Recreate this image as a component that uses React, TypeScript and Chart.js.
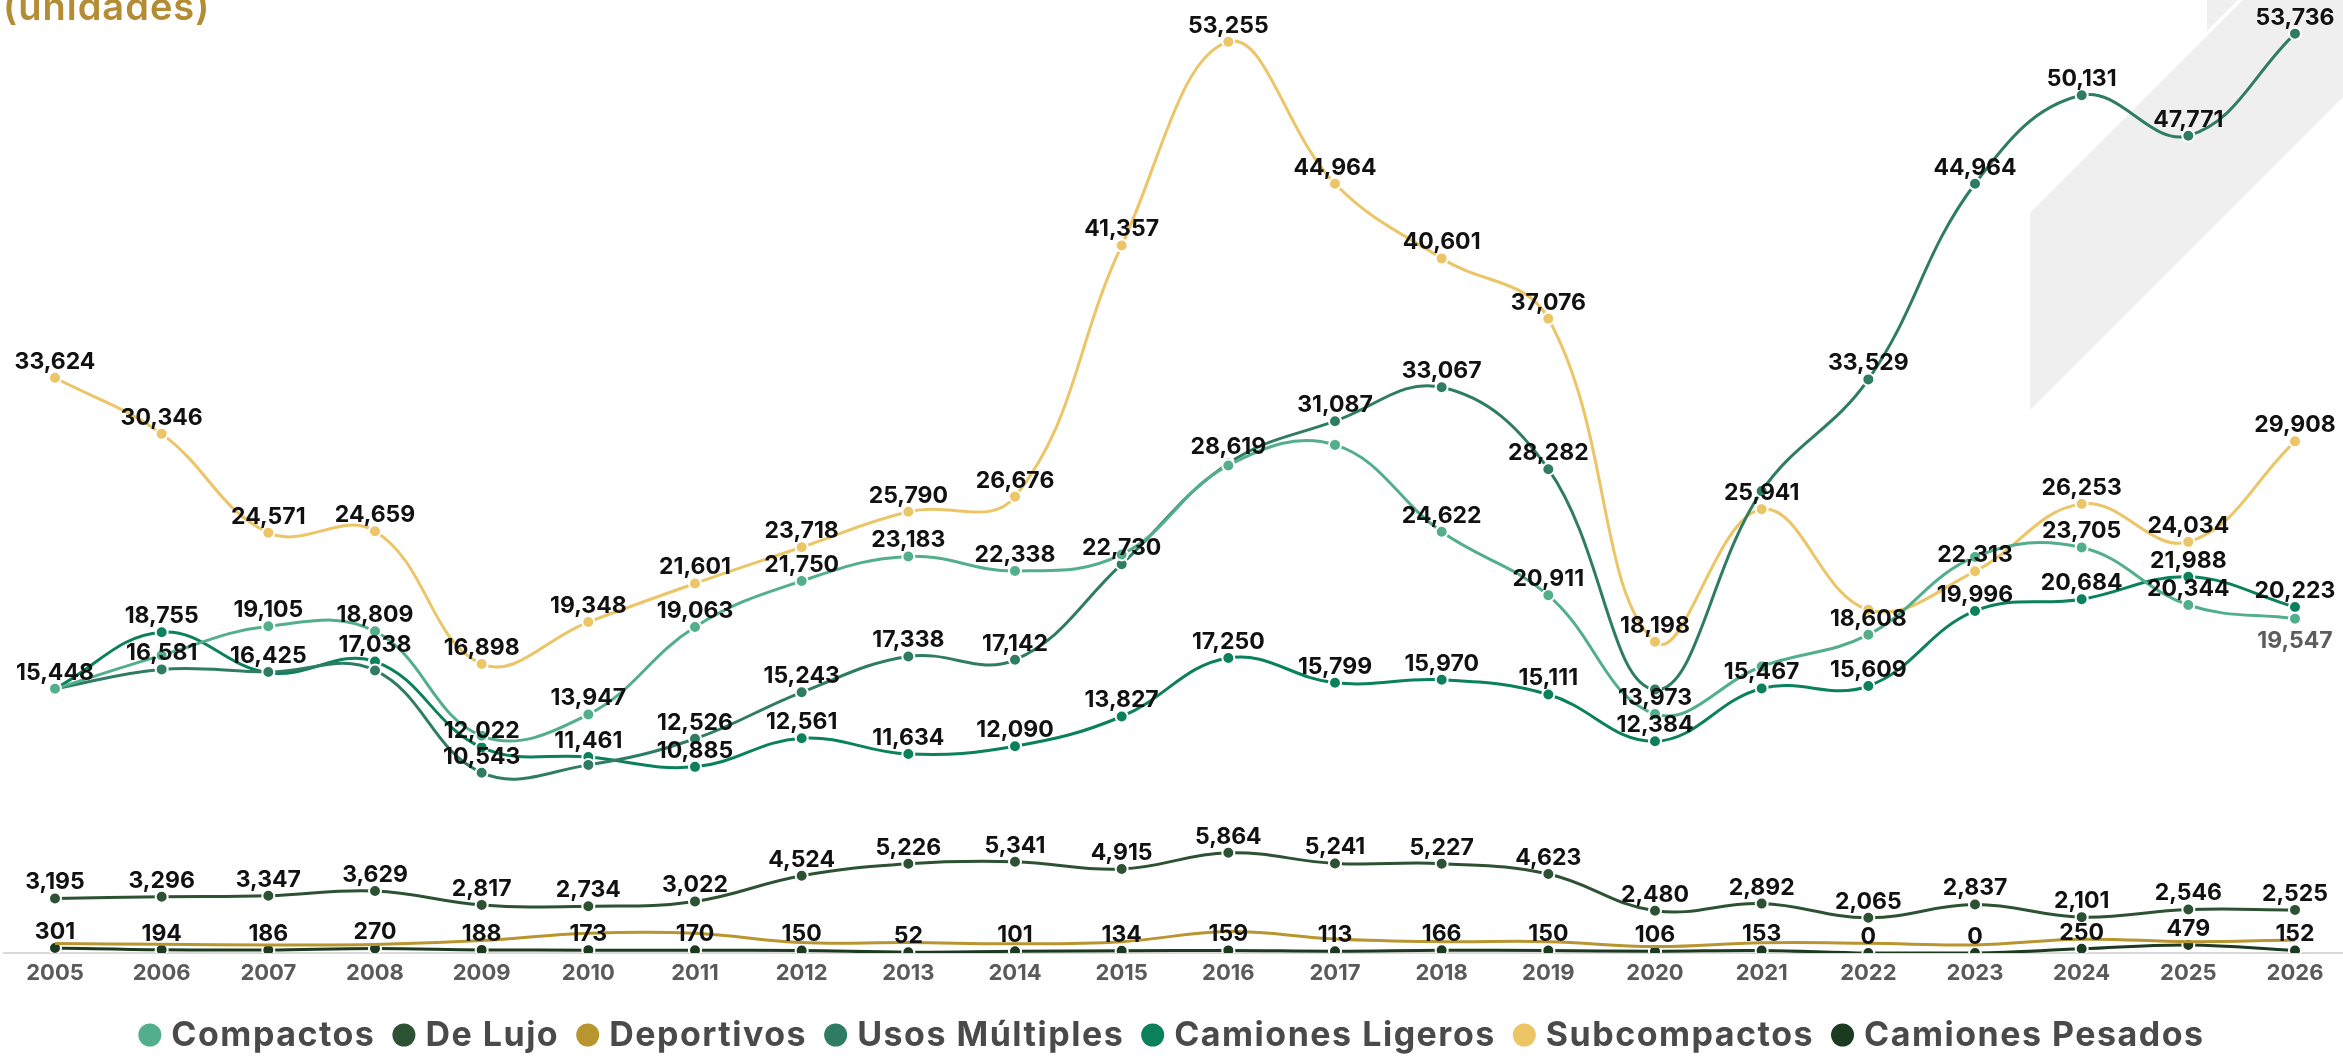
import React, { useEffect, useRef } from "react";
import { Chart, registerables } from "chart.js";

Chart.register(...registerables);

// ---------- data ----------
const years = ["2005","2006","2007","2008","2009","2010","2011","2012","2013","2014","2015","2016","2017","2018","2019","2020","2021","2022","2023","2024","2025","2026"];

const compactos = [15448,17400,19105,18809,12700,13947,19063,21750,23183,22338,23300,28500,29700,24622,20911,13973,16750,18608,23150,23705,20344,19547];
const deLujo = [3195,3296,3347,3629,2817,2734,3022,4524,5226,5341,4915,5864,5241,5227,4623,2480,2892,2065,2837,2101,2546,2525];
const deportivos = [555,515,480,500,730,1160,1160,615,615,540,670,1257,830,670,670,380,600,575,480,810,670,770];
const usosMultiples = [15448,16581,16425,16520,10543,11000,12526,15243,17338,17142,22730,28619,31087,33067,28282,15400,27000,33529,44964,50131,47771,53736];
const camionesLigeros = [15448,18755,16380,17038,12022,11461,10885,12561,11634,12090,13827,17250,15799,15970,15111,12384,15467,15609,19996,20684,21988,20223];
const subcompactos = [33624,30346,24571,24659,16898,19348,21601,23718,25790,26676,41357,53255,44964,40601,37076,18198,25941,20065,22313,26253,24034,29908];
const camionesPesados = [301,194,186,270,188,173,170,150,52,101,134,159,113,166,150,106,153,0,0,250,479,152];

// years whose value label is not shown in the reference
const compactosNoLabel = ["2006","2009","2015","2016","2017","2021","2023"];
const usosNoLabel = ["2005","2008","2010","2020","2021"];
const ligerosNoLabel = ["2005","2007"];
const subcompactosNoLabel = ["2022"];
const compactosLabelBelow = ["2026"];

const seriesLabels = ["Compactos","De Lujo","Deportivos","Usos Múltiples","Camiones Ligeros","Subcompactos","Camiones Pesados"];
const seriesColors = ["#52ae8b","#2d5233","#b8952f","#2f7c64","#0a805d","#ebc566","#1c3a20"];

const titleText = "(unidades)";

// ---------- label config ----------
const labelRules: Record<string, { show: boolean; hidden: string[]; below: string[] }> = {
  "Compactos": { show: true, hidden: compactosNoLabel, below: compactosLabelBelow },
  "De Lujo": { show: true, hidden: [], below: [] },
  "Deportivos": { show: false, hidden: [], below: [] },
  "Usos Múltiples": { show: true, hidden: usosNoLabel, below: [] },
  "Camiones Ligeros": { show: true, hidden: ligerosNoLabel, below: [] },
  "Subcompactos": { show: true, hidden: subcompactosNoLabel, below: [] },
  "Camiones Pesados": { show: true, hidden: [], below: [] },
};

const FONT = "Inter, 'Open Sans', sans-serif";

const decorationPlugin = {
  id: "decoration",
  beforeDraw(chart: any) {
    const ctx = chart.ctx;
    ctx.save();
    ctx.fillStyle = "#efefef";
    ctx.beginPath();
    ctx.moveTo(2030, 213);
    ctx.lineTo(2243, 0);
    ctx.lineTo(2343, 0);
    ctx.lineTo(2343, 97);
    ctx.lineTo(2030, 410);
    ctx.closePath();
    ctx.fill();
    ctx.beginPath();
    ctx.moveTo(2207, 0);
    ctx.lineTo(2207, 31);
    ctx.lineTo(2238, 0);
    ctx.closePath();
    ctx.fill();
    // title
    ctx.fillStyle = "#b38c34";
    ctx.font = `600 38px ${FONT}`;
    (ctx as any).letterSpacing = "1px";
    ctx.textAlign = "left";
    ctx.textBaseline = "alphabetic";
    ctx.fillText(titleText, 3, 20);
    ctx.restore();
  },
  beforeDatasetsDraw(chart: any) {
    const ctx = chart.ctx;
    const y = chart.scales.y.getPixelForValue(0);
    ctx.save();
    ctx.strokeStyle = "#d9d9d9";
    ctx.lineWidth = 2;
    ctx.beginPath();
    ctx.moveTo(3, y);
    ctx.lineTo(chart.width, y);
    ctx.stroke();
    ctx.restore();
  },
};

const valueLabelPlugin = {
  id: "valueLabels",
  afterDatasetsDraw(chart: any) {
    const ctx = chart.ctx;
    ctx.save();
    ctx.font = `700 23px ${FONT}`;
    ctx.textAlign = "center";
    ctx.textBaseline = "middle";
    chart.data.datasets.forEach((ds: any, i: number) => {
      const rule = labelRules[ds.label];
      if (!rule || !rule.show) return;
      const meta = chart.getDatasetMeta(i);
      meta.data.forEach((pt: any, j: number) => {
        const yr = years[j];
        if (rule.hidden.includes(yr)) return;
        const below = rule.below.includes(yr);
        ctx.fillStyle = below ? "#5d5d5d" : "#111111";
        const txt = Number(ds.data[j]).toLocaleString("en-US");
        ctx.fillText(txt, pt.x, below ? pt.y + 22 : pt.y - 16);
      });
    });
    ctx.restore();
  },
};

const legendPlugin = {
  id: "bottomLegend",
  afterDraw(chart: any) {
    const ctx = chart.ctx;
    ctx.save();
    ctx.font = `700 34px ${FONT}`;
    (ctx as any).letterSpacing = "1.5px";
    const r = 11.5;
    const gapIn = 10;
    const gapOut = 17;
    const items = chart.data.datasets.map((ds: any) => ({
      text: ds.label as string,
      color: ds.borderColor as string,
      w: ctx.measureText(ds.label).width,
    }));
    const total = items.reduce((s: number, it: any) => s + 2 * r + gapIn + it.w, 0) + gapOut * (items.length - 1);
    let x = chart.width / 2 - total / 2;
    const y = 1035;
    ctx.textAlign = "left";
    ctx.textBaseline = "middle";
    items.forEach((it: any) => {
      ctx.fillStyle = it.color;
      ctx.beginPath();
      ctx.arc(x + r, y, r, 0, Math.PI * 2);
      ctx.fill();
      x += 2 * r + gapIn;
      ctx.fillStyle = "#4a4a4a";
      ctx.fillText(it.text, x, y + 1);
      x += it.w + gapOut;
    });
    ctx.restore();
  },
};

const allSeries = [compactos, deLujo, deportivos, usosMultiples, camionesLigeros, subcompactos, camionesPesados];

export default function App() {
  const ref = useRef<HTMLCanvasElement | null>(null);
  useEffect(() => {
    if (!ref.current) return;
    const datasets = allSeries.map((data, i) => {
      const isDep = seriesLabels[i] === "Deportivos";
      return {
        label: seriesLabels[i],
        data,
        borderColor: seriesColors[i],
        backgroundColor: seriesColors[i],
        pointBackgroundColor: seriesColors[i],
        pointBorderColor: "#ffffff",
        pointBorderWidth: 2,
        pointRadius: isDep ? 0 : 6,
        borderWidth: 3,
        tension: 0.4,
        fill: false,
      };
    });
    const chart = new Chart(ref.current, {
      type: "line",
      data: { labels: years, datasets },
      options: {
        responsive: false,
        animation: false,
        devicePixelRatio: 1,
        layout: { padding: { left: 55, right: 48, top: 12, bottom: 62.5 } },
        plugins: {
          legend: { display: false },
          tooltip: { enabled: false },
          title: { display: false },
        },
        scales: {
          x: {
            offset: false,
            grid: { display: false, drawTicks: false },
            border: { display: false },
            ticks: {
              autoSkip: false,
              maxRotation: 0,
              padding: 7,
              color: "#5a5a5a",
              font: { family: FONT, size: 22, weight: "bold" },
            },
          },
          y: {
            display: false,
            min: 0,
            max: 55000,
          },
        },
      },
      plugins: [decorationPlugin, valueLabelPlugin, legendPlugin],
    } as any);
    return () => chart.destroy();
  }, []);
  return (
    <div style={{ position: "absolute", left: 0, top: 0, width: 2343, height: 1056, background: "#fff" }}>
      <canvas ref={ref} width={2343} height={1056} style={{ width: 2343, height: 1056, display: "block" }} />
    </div>
  );
}
